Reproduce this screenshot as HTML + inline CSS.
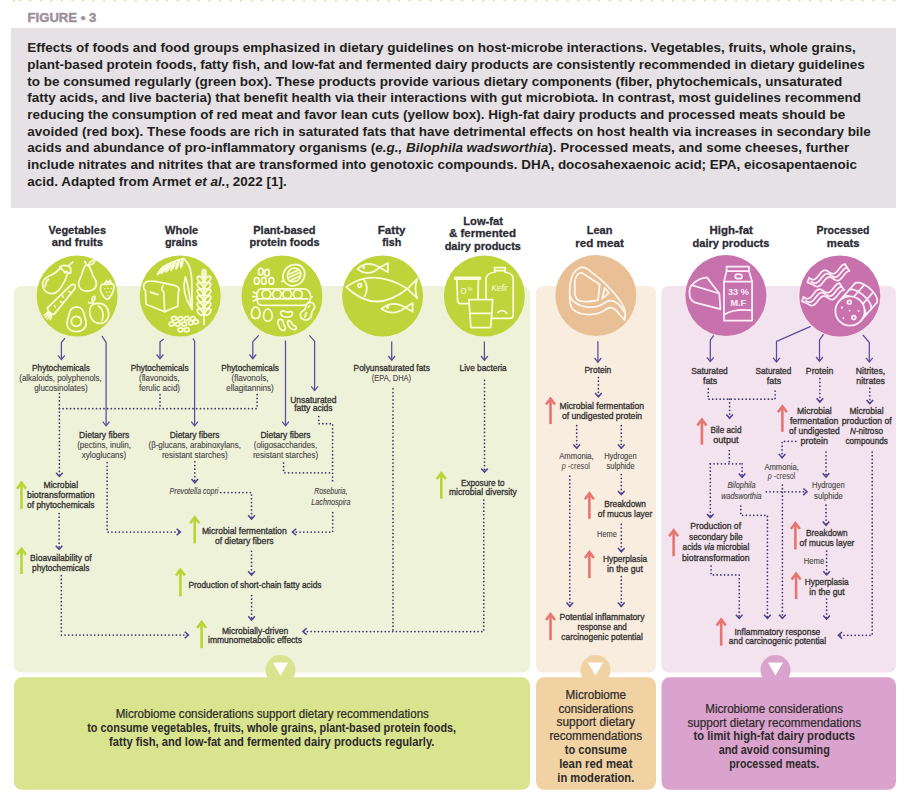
<!DOCTYPE html>
<html><head><meta charset="utf-8">
<style>
html,body{margin:0;padding:0;background:#fff;}
#page{position:relative;width:912px;height:808px;overflow:hidden;background:#fff;font-family:"Liberation Sans",sans-serif;}
#fig{position:absolute;left:27.6px;top:9.4px;font-size:13.4px;font-weight:700;color:#9e8e9a;letter-spacing:0.1px;}
#cap{position:absolute;left:11px;top:28px;width:885px;height:180px;background:#e5e1e5;}
.cl{position:absolute;left:27.3px;white-space:nowrap;font-size:13.47px;font-weight:700;color:#231f20;line-height:15px;}
svg{position:absolute;left:0;top:0;}
svg text{font-family:"Liberation Sans",sans-serif;}
.sa{fill:none;stroke:#5b4b9d;stroke-width:1.25;stroke-linejoin:miter;}
.da{fill:none;stroke:#41376f;stroke-width:1.75;stroke-dasharray:0.01 3.7;stroke-linecap:round;}
.dh{fill:none;stroke:#4d3f92;stroke-width:1.5;}
</style></head><body><div id="page">
<svg width="912" height="4" style="fill:#d9e396"><circle cx="14.0" cy="0.5" r="1.05"/><circle cx="19.8" cy="0.5" r="1.05"/><circle cx="30.3" cy="0.5" r="1.05"/><circle cx="40.8" cy="0.5" r="1.05"/><circle cx="51.4" cy="0.5" r="1.05"/><circle cx="61.9" cy="0.5" r="1.05"/><circle cx="72.4" cy="0.5" r="1.05"/><circle cx="83.0" cy="0.5" r="1.05"/><circle cx="93.5" cy="0.5" r="1.05"/><circle cx="104.1" cy="0.5" r="1.05"/><circle cx="114.6" cy="0.5" r="1.05"/><circle cx="125.1" cy="0.5" r="1.05"/><circle cx="135.7" cy="0.5" r="1.05"/><circle cx="146.2" cy="0.5" r="1.05"/><circle cx="156.7" cy="0.5" r="1.05"/><circle cx="167.3" cy="0.5" r="1.05"/><circle cx="177.8" cy="0.5" r="1.05"/><circle cx="188.4" cy="0.5" r="1.05"/><circle cx="198.9" cy="0.5" r="1.05"/><circle cx="209.4" cy="0.5" r="1.05"/><circle cx="220.0" cy="0.5" r="1.05"/><circle cx="230.5" cy="0.5" r="1.05"/><circle cx="241.0" cy="0.5" r="1.05"/><circle cx="251.6" cy="0.5" r="1.05"/><circle cx="262.1" cy="0.5" r="1.05"/><circle cx="272.6" cy="0.5" r="1.05"/><circle cx="283.2" cy="0.5" r="1.05"/><circle cx="293.7" cy="0.5" r="1.05"/><circle cx="304.3" cy="0.5" r="1.05"/><circle cx="314.8" cy="0.5" r="1.05"/><circle cx="325.3" cy="0.5" r="1.05"/><circle cx="335.9" cy="0.5" r="1.05"/><circle cx="346.4" cy="0.5" r="1.05"/><circle cx="356.9" cy="0.5" r="1.05"/><circle cx="367.5" cy="0.5" r="1.05"/><circle cx="378.0" cy="0.5" r="1.05"/><circle cx="388.6" cy="0.5" r="1.05"/><circle cx="399.1" cy="0.5" r="1.05"/><circle cx="409.6" cy="0.5" r="1.05"/><circle cx="420.2" cy="0.5" r="1.05"/><circle cx="430.7" cy="0.5" r="1.05"/><circle cx="441.2" cy="0.5" r="1.05"/><circle cx="451.8" cy="0.5" r="1.05"/><circle cx="462.3" cy="0.5" r="1.05"/><circle cx="472.9" cy="0.5" r="1.05"/><circle cx="483.4" cy="0.5" r="1.05"/><circle cx="493.9" cy="0.5" r="1.05"/><circle cx="504.5" cy="0.5" r="1.05"/><circle cx="515.0" cy="0.5" r="1.05"/><circle cx="525.5" cy="0.5" r="1.05"/><circle cx="536.1" cy="0.5" r="1.05"/><circle cx="546.6" cy="0.5" r="1.05"/><circle cx="557.1" cy="0.5" r="1.05"/><circle cx="567.7" cy="0.5" r="1.05"/><circle cx="578.2" cy="0.5" r="1.05"/><circle cx="588.8" cy="0.5" r="1.05"/><circle cx="599.3" cy="0.5" r="1.05"/><circle cx="609.8" cy="0.5" r="1.05"/><circle cx="620.4" cy="0.5" r="1.05"/><circle cx="630.9" cy="0.5" r="1.05"/><circle cx="641.4" cy="0.5" r="1.05"/><circle cx="652.0" cy="0.5" r="1.05"/><circle cx="662.5" cy="0.5" r="1.05"/><circle cx="673.1" cy="0.5" r="1.05"/><circle cx="683.6" cy="0.5" r="1.05"/><circle cx="694.1" cy="0.5" r="1.05"/><circle cx="704.7" cy="0.5" r="1.05"/><circle cx="715.2" cy="0.5" r="1.05"/><circle cx="725.7" cy="0.5" r="1.05"/><circle cx="736.3" cy="0.5" r="1.05"/><circle cx="746.8" cy="0.5" r="1.05"/><circle cx="757.4" cy="0.5" r="1.05"/><circle cx="767.9" cy="0.5" r="1.05"/><circle cx="778.4" cy="0.5" r="1.05"/><circle cx="789.0" cy="0.5" r="1.05"/><circle cx="799.5" cy="0.5" r="1.05"/><circle cx="810.0" cy="0.5" r="1.05"/><circle cx="820.6" cy="0.5" r="1.05"/><circle cx="831.1" cy="0.5" r="1.05"/><circle cx="841.6" cy="0.5" r="1.05"/><circle cx="852.2" cy="0.5" r="1.05"/><circle cx="862.7" cy="0.5" r="1.05"/><circle cx="873.3" cy="0.5" r="1.05"/><circle cx="883.8" cy="0.5" r="1.05"/><circle cx="894.3" cy="0.5" r="1.05"/></svg>
<svg width="120" height="30" style="left:0;top:0"><text x="27.6" y="21.9" textLength="68.6" lengthAdjust="spacingAndGlyphs" style="font-size:13.6px;font-weight:700;fill:#9e8e9a;stroke:#9e8e9a;stroke-width:0.45">FIGURE &#8226; 3</text></svg>
<div id="cap"></div>
<div class="cl" style="top:40.20px">Effects of foods and food groups emphasized in dietary guidelines on host-microbe interactions. Vegetables, fruits, whole grains,</div>
<div class="cl" style="top:56.87px">plant-based protein foods, fatty fish, and low-fat and fermented dairy products are consistently recommended in dietary guidelines</div>
<div class="cl" style="top:73.54px">to be consumed regularly (green box). These products provide various dietary components (fiber, phytochemicals, unsaturated</div>
<div class="cl" style="top:90.21px">fatty acids, and live bacteria) that benefit health via their interactions with gut microbiota. In contrast, most guidelines recommend</div>
<div class="cl" style="top:106.88px">reducing the consumption of red meat and favor lean cuts (yellow box). High-fat dairy products and processed meats should be</div>
<div class="cl" style="top:123.55px">avoided (red box). These foods are rich in saturated fats that have detrimental effects on host health via increases in secondary bile</div>
<div class="cl" style="top:140.22px">acids and abundance of pro-inflammatory organisms (<i>e.g., Bilophila wadsworthia</i>). Processed meats, and some cheeses, further</div>
<div class="cl" style="top:156.89px">include nitrates and nitrites that are transformed into genotoxic compounds. DHA, docosahexaenoic acid; EPA, eicosapentaenoic</div>
<div class="cl" style="top:173.56px">acid. Adapted from Armet <i>et al.</i>, 2022 [1].</div>
<svg width="912" height="808" viewBox="0 0 912 808">
<rect x="14" y="286" width="516" height="386.5" rx="7" fill="#eef2d9"/>
<rect x="536" y="286" width="120" height="386.5" rx="7" fill="#f8eddf"/>
<rect x="661.5" y="286" width="234.5" height="386.5" rx="7" fill="#f3e3ee"/>
<rect x="14" y="677.3" width="516" height="112.5" rx="8" fill="#d8e48e"/>
<rect x="536" y="677.3" width="120" height="112.5" rx="8" fill="#f1d2a3"/>
<rect x="661.5" y="677.3" width="234.5" height="112.5" rx="8" fill="#daa3cd"/>
<circle cx="280.5" cy="670" r="15" fill="#d8e48e"/>
<path d="M272.9,662.6 L288.1,662.6 L280.5,675.5 Z" fill="#fff"/>
<circle cx="595.5" cy="670" r="15" fill="#f1d2a3"/>
<path d="M587.9,662.6 L603.1,662.6 L595.5,675.5 Z" fill="#fff"/>
<circle cx="775.5" cy="670" r="15" fill="#daa3cd"/>
<path d="M767.9,662.6 L783.1,662.6 L775.5,675.5 Z" fill="#fff"/>
<circle cx="77.1" cy="296.1" r="40.5" fill="#bdd53a"/>
<circle cx="180.2" cy="296.0" r="40.5" fill="#bdd53a"/>
<circle cx="282" cy="296" r="40.5" fill="#bdd53a"/>
<circle cx="382.6" cy="296" r="40.5" fill="#bdd53a"/>
<circle cx="484.4" cy="296" r="40.5" fill="#bdd53a"/>
<circle cx="595.8" cy="295.6" r="40.5" fill="#e9bf96"/>
<circle cx="725.9" cy="295.6" r="40.5" fill="#c872ad"/>
<circle cx="839.8" cy="296" r="40.5" fill="#c872ad"/>
<g transform="translate(36,254)" fill="none" stroke="#f9fbd9" stroke-width="1.75" stroke-linejoin="round" stroke-linecap="round">
<path d="M24.8,13.6 C21.5,17.5 18,20 12.9,22.3 C9,24 6.5,27 6.7,30.5 C6.9,35 9.5,38.7 14.5,39.6 C19,40.3 22.5,37 25,33.5 C28,29 30.5,24 31.7,18.9"/>
<path d="M23.8,12.9 L27.7,11.4 L32.2,11.9 L34.7,14.4 L34.7,18.9 L32.7,19.3 L30.7,17.4 L28.7,18.9 L27.7,16.4 L25.3,14.9 Z"/>
<path d="M32.2,11.9 L36.7,8.2"/>
<path d="M9.4,32.7 C9.5,29 10.5,26.8 12.4,25.3"/>
<path d="M50.6,10.6 C47.6,12.5 46.6,17.5 45.4,21.5 C44.3,24.5 42.4,26.5 42.6,30 C42.8,34.5 46.5,37.2 51.3,37.2 C56.3,37.2 60.4,34.4 60.4,29.4 C60.4,25.8 57.6,23.5 56.5,20.5 C55.3,16.5 54.2,11.8 50.6,10.6 Z"/>
<path d="M50.4,10.4 L48.6,7.2"/>
<path d="M52.6,11.2 C53.2,8.2 55.6,6.2 59,5.8 C58.4,9 56,10.8 52.6,11.2 Z"/>
<path d="M66.2,30.2 C63.4,32.6 64,37.6 66.8,41.6 C68.6,44.2 70.4,45.6 71.8,45.2 C73.6,44.4 77.6,38.6 78,33.4 C78.2,30.6 76.6,29.2 74.6,29.6 C71.8,30.4 69,30.8 66.2,30.2 Z"/>
<path d="M68.4,30.4 L70.6,26.6 L72.2,29.2 L74.2,26.2 L75.2,29.8"/>
<g stroke-width="1.1"><path d="M68.6,34.6 l0.3,0.3 M72,34.2 l0.3,0.3 M75,34.4 l0.3,0.3 M70.2,38 l0.3,0.3 M73.6,38 l0.3,0.3 M71.8,41.4 l0.3,0.3"/></g>
<path d="M18.4,59.9 L38.9,34.6 Q39.8,31.5 38.9,30.7 Q38.0,29.9 35.1,31.0 L11.6,53.7 Q10.7,55.6 13.6,58.3 Q16.6,61.0 18.4,59.9 Z"/>
<path d="M13.4,59.2 L9.4,63.4 M14.6,60.2 L11.4,65 M16,60.6 L14.2,65.6 M12.2,58 L8.4,61.2"/>
<path d="M33,37.6 l1.4,0.6 M26.6,41.8 l0.5,1.4 M24.6,47.6 l1.4,0.6 M18.6,51.6 l0.5,1.3"/>
<path d="M40.6,52.8 C36.2,53 33.6,56.8 32.9,60.8 C32.2,64.4 30.6,67.4 31,70.6 C31.6,75 35.6,77.6 40.6,77.6 C45.6,77.6 50,74.6 50.2,69.6 C50.3,66 48.8,63.6 48.2,60.6 C47.6,56.6 45,52.8 40.6,52.8 Z"/>
<circle cx="40.3" cy="67.4" r="5"/>
<path d="M57.2,50.2 C53.6,52.2 53.2,57.6 54.2,61.6 C55.6,66.6 59.6,69.6 64.2,69.4 C69.6,69.2 73.2,64.8 72.6,58.8 C72,53.4 68.4,49.6 63.6,49.4 C61.2,49.3 59,49.4 57.2,50.2 Z"/>
<path d="M62.4,52 C66.8,54.6 68.2,60.4 66.2,66.2"/>
<path d="M57.4,50.4 L56.6,46.2 M56.8,47.4 C55.4,45.6 55.8,43.2 58.8,42.4 C59.4,45 58.8,46.6 56.8,47.4 Z M56.2,49 L52.6,48.6"/>
</g>
<g transform="translate(139,254)" fill="none" stroke="#f9fbd9" stroke-width="1.75" stroke-linejoin="round" stroke-linecap="round">
<path d="M6.4,36.2 C4,35.2 3.6,30.4 6.8,28.2 C9.6,26.4 13.4,26.8 17.6,27.6 L35.6,31.4 C39.6,32.4 41.2,35.6 39.4,37.6 L38.8,52.2 L25.6,57.8 L7,50.2 Z"/>
<path d="M25.6,57.8 L24.8,38 C22.6,37 22,33.6 24.4,31.4"/>
<path d="M11.2,38.2 L19,40.6"/>
<path d="M44.2,4.4 C49.6,8 52.6,16 52.8,28 L53.2,55.6"/>
<path d="M43.5,5 Q41.08,8.95 42,13.5 Q44.42,9.55 43.5,5 Z"/>
<path d="M40,6 Q36.89,9.96 37,15 Q40.11,11.04 40,6 Z"/>
<path d="M36.2,7.4 Q32.56,11.18 32,16.4 Q35.64,12.62 36.2,7.4 Z"/>
<path d="M32.4,9 Q28.25,12.51 27,17.8 Q31.15,14.29 32.4,9 Z"/>
<path d="M28.6,10.8 Q24.13,13.99 22.4,19.2 Q26.87,16.01 28.6,10.8 Z"/>
<path d="M25,12.8 Q20.40,15.60 18.4,20.6 Q23.00,17.80 25,12.8 Z"/>
<path d="M44.5,4.5 C37,6.5 30,9 24,12.8"/>
<path d="M46.4,22.8 C43.8,32 45,43.4 52.6,54.6 C50.6,44 49.6,31.6 46.4,22.8 Z"/>
<path d="M65,16 L65,70.5"/>
<ellipse cx="65" cy="19.5" rx="2" ry="3.8"/>
<ellipse cx="61.2" cy="25.5" rx="2.1" ry="3.7" transform="rotate(-40 61.2 25.5)"/>
<ellipse cx="68.8" cy="25.5" rx="2.1" ry="3.7" transform="rotate(40 68.8 25.5)"/>
<ellipse cx="61.2" cy="32" rx="2.1" ry="3.7" transform="rotate(-40 61.2 32)"/>
<ellipse cx="68.8" cy="32" rx="2.1" ry="3.7" transform="rotate(40 68.8 32)"/>
<ellipse cx="61.2" cy="38.5" rx="2.1" ry="3.7" transform="rotate(-40 61.2 38.5)"/>
<ellipse cx="68.8" cy="38.5" rx="2.1" ry="3.7" transform="rotate(40 68.8 38.5)"/>
<ellipse cx="61.2" cy="45" rx="2.1" ry="3.7" transform="rotate(-40 61.2 45)"/>
<ellipse cx="68.8" cy="45" rx="2.1" ry="3.7" transform="rotate(40 68.8 45)"/>
<ellipse cx="61.2" cy="51.5" rx="2.1" ry="3.7" transform="rotate(-40 61.2 51.5)"/>
<ellipse cx="68.8" cy="51.5" rx="2.1" ry="3.7" transform="rotate(40 68.8 51.5)"/>
<ellipse cx="61.2" cy="58" rx="2.1" ry="3.7" transform="rotate(-40 61.2 58)"/>
<ellipse cx="68.8" cy="58" rx="2.1" ry="3.7" transform="rotate(40 68.8 58)"/>
<ellipse cx="35" cy="64.4" rx="2.5" ry="1.9" transform="rotate(-15 35 64.4)"/>
<ellipse cx="41.2" cy="64.6" rx="2.5" ry="1.9" transform="rotate(-15 41.2 64.6)"/>
<ellipse cx="47.6" cy="64.4" rx="2.5" ry="1.9" transform="rotate(-15 47.6 64.4)"/>
<ellipse cx="53.8" cy="64.6" rx="2.5" ry="1.9" transform="rotate(-15 53.8 64.6)"/>
<ellipse cx="32.6" cy="70" rx="2.5" ry="1.9" transform="rotate(-15 32.6 70)"/>
<ellipse cx="38.8" cy="70.2" rx="2.5" ry="1.9" transform="rotate(-15 38.8 70.2)"/>
<ellipse cx="45.2" cy="70" rx="2.5" ry="1.9" transform="rotate(-15 45.2 70)"/>
<ellipse cx="52" cy="68.8" rx="2.5" ry="1.9" transform="rotate(-15 52 68.8)"/>
<ellipse cx="57" cy="67.8" rx="2.5" ry="1.9" transform="rotate(-15 57 67.8)"/>
<ellipse cx="41.6" cy="75.8" rx="2.5" ry="1.9" transform="rotate(-15 41.6 75.8)"/>
<ellipse cx="47.8" cy="75.8" rx="2.5" ry="1.9" transform="rotate(-15 47.8 75.8)"/>
</g>
<g transform="translate(241,255)" fill="none" stroke="#f9fbd9" stroke-width="1.75" stroke-linejoin="round" stroke-linecap="round">
<ellipse cx="19.8" cy="16.8" rx="2.4" ry="3.3"/>
<ellipse cx="25.9" cy="17.8" rx="2.4" ry="3.3"/>
<ellipse cx="15.7" cy="25.9" rx="2.4" ry="3.3"/>
<ellipse cx="22.8" cy="25.9" rx="2.4" ry="3.3"/>
<ellipse cx="30.4" cy="25.9" rx="2.4" ry="3.3"/>
<path d="M42.6,25.6 C40.6,20 43.4,11 52.8,9.6 C60.4,8.6 64.4,14.6 63.6,20.4 C62.8,27 57,31 51.4,30.8 C47.6,30.6 44.6,28.8 42.6,25.6 Z"/>
<path d="M42.6,25.6 L41,26.4"/>
<path d="M46.6,22.6 C46,17 49,13.2 53.4,13 C58.4,13 60.4,17 59.6,20.8 C58.6,25.4 54.4,27 50.8,26.6 C48.6,26.4 47.2,24.8 46.6,22.6 Z"/>
<path d="M48.8,19 L56.4,15.4 M48.6,22.4 L58,17.8 M50.6,25 L58.8,21"/>
<path d="M20.6,33.8 L62.6,33.8 C67,33.8 69.2,37.6 69.8,41.6 L71.2,41.6 L69.8,42.2 C69.2,46.8 66.2,50.4 62,50.4 L21,50.4 C17,50.4 15.8,46.2 15.8,42 C15.8,37.6 17,33.8 20.6,33.8 Z"/>
<path d="M17,43.8 L66.6,43.8"/>
<circle cx="25.4" cy="39.2" r="4.4"/>
<circle cx="36" cy="39.2" r="4.4"/>
<circle cx="46.2" cy="39.2" r="4.4"/>
<circle cx="56.8" cy="39.2" r="4.4"/>
<path d="M15.8,38.4 L12.2,37.2 M15.8,41.6 L11.6,41.6 M15.8,44.4 L12.2,46"/>
<path d="M14.7,51.8 C17.4,51.8 19,56 19,58.6 C19,61.6 17.2,63.6 14.7,63.6 C12.2,63.6 10.4,61.6 10.4,58.6 C10.4,56 12,51.8 14.7,51.8 Z"/>
<path d="M26.9,53.8 C29.7,53.8 31.3,58.2 31.3,60.9 C31.3,64.1 29.4,66.2 26.9,66.2 C24.4,66.2 22.5,64.1 22.5,60.9 C22.5,58.2 24.1,53.8 26.9,53.8 Z"/>
<path d="M39.6,58.2 C39.4,55.4 42.6,55.6 44.6,56.8 C46.6,58 48.4,56.2 50,56.6 C52.6,57.4 51.6,61.6 47.8,62 C44,62.4 39.8,61.6 39.6,58.2 Z"/>
<path d="M38.6,64.4 C36.4,64.6 36.6,68 37.8,71 C39,74.4 41.6,76 43.4,75.2 C45.2,74.2 44.4,72 43.2,70.2 C42,68.2 42.4,66 41.2,65 C40.6,64.6 39.6,64.3 38.6,64.4 Z"/>
<path d="M47.4,65.8 C45.8,66.6 46.4,69.6 48.6,72.2 C50.6,74.6 53.4,75.4 55,74 C56.2,72.6 54.8,71 53,70.6 C51.2,70.2 50.8,68.4 50,67 C49.4,66 48.4,65.4 47.4,65.8 Z"/>
<path d="M60.6,63.4 C58.2,60.6 59.2,56.8 62.2,55.6 C64,54.8 64.6,53.8 64.8,51.6 C65.2,48 68.6,46.4 71.4,47.8 C74.2,49.4 74.2,53 72,55 C70.8,56.2 70.6,57.4 70.6,59 C70.6,62.6 67.6,65.4 64.2,65 C62.8,64.8 61.4,64.2 60.6,63.4 Z"/>
<path d="M64.2,59.6 L65.6,57.6 M67.2,52.6 L68.4,50.6 M63.6,62.2 L64.6,60.8"/>
</g>
<g transform="translate(335,250)" fill="none" stroke="#f9fbd9" stroke-width="1.75" stroke-linejoin="round" stroke-linecap="round">
<path d="M11.2,37 Q38,17.6 72.3,38.8 Q40,65 11.2,37 Z"/>
<path d="M72.3,38.8 L82.3,28.8 Q78.6,38.6 82.3,48.4 Z"/>
<circle cx="24.7" cy="35.3" r="1.8"/>
<path d="M29.2,30 Q34.4,38.2 29.6,46.4"/>
<path d="M22.3,18.8 Q33,9.4 44.7,17.6 Q33,27.6 22.3,18.8 Z"/>
<path d="M44.7,17.6 L52.9,12.9 L52.9,22.3 Z"/>
<path d="M46.4,58.8 Q58,49.4 70.5,57.6 Q58,67 46.4,58.8 Z"/>
<path d="M70.5,57.6 L77.6,52.9 L77.6,61.7 Z"/>
<circle cx="28.6" cy="17.4" r="0.6"/><circle cx="52.6" cy="57.4" r="0.6"/>
</g>
<g transform="translate(443,255)" fill="none" stroke="#f9fbd9" stroke-width="1.75" stroke-linejoin="round" stroke-linecap="round">
<path d="M51.6,12.6 L62.2,12.6 L62.2,15.6 L51.6,15.6 Z"/>
<path d="M52.2,15.6 L52.2,17 C46,18 43.2,19.6 43,23.6 L43,46"/>
<path d="M61.6,15.6 L61.6,17 C67.8,18 70,19.6 70.2,23.6 L70.2,60.6 C70.2,62.6 69,63.4 67,63.4 L49,63.4"/>
<path d="M55,57.4 C58,55 61.4,55.4 64,58.4"/>
<path d="M11.8,22.4 L37.2,22.4 L37.2,24.2 L11.8,24.2 Z"/>
<path d="M13.8,24.2 L14.6,46 C14.8,47.8 15.8,48.6 17.6,48.6 L26.4,48.6"/>
<path d="M35.4,24.2 L35,44.6"/>
<path d="M25.9,44.7 L49.7,44.7 L47.7,72.6 L27.9,72.6 Z" fill="#bdd53a"/>
<path d="M27,58.4 L48.6,58.4"/>
</g>
<text x="460.6" y="294.2" style="font-size:8.6px;font-weight:400;fill:#f9fbd9" textLength="6.2" lengthAdjust="spacingAndGlyphs">0</text>
<text x="467.4" y="291.2" style="font-size:5.6px;font-weight:400;fill:#f9fbd9">%</text>
<text x="491.4" y="291.4" style="font-size:8.4px;font-style:italic;fill:#f9fbd9" textLength="16.4" lengthAdjust="spacingAndGlyphs">Kefir</text>
<g transform="translate(555,254)" fill="none" stroke="#fff7ee" stroke-width="1.75" stroke-linejoin="round" stroke-linecap="round">
<path d="M27.9,13.2 C31,13.6 33,15.4 35.5,17.3 C39,20.4 42.4,22.6 45.7,25.4 C49,28.4 52.4,31.8 55.8,35.5 C59,39 62.4,42.6 65,46.7 C67.6,50.6 69.4,53.4 70,56.8 C70.6,60 70.2,63 69.5,66 C68,64.2 66.6,62.4 65,60.9 C63,58.6 61,56.2 58.9,54.8 C57,53.6 55.4,53.4 53.8,53.8 C52,54.4 50.4,55.8 48.7,56.8 C46,58.4 43.4,59.4 40.6,59.9 C37,60.6 33.6,60.6 30.4,60.4 C26.8,60.2 23.8,59.2 21.3,57.8 C18.8,56.2 17,54.6 16.2,52.8 C15,50 14.7,47.4 14.7,44.7 L14.7,34.5 C14.9,30.6 15.6,26.8 16.7,23.3 C17.8,20 19.4,17.8 21.3,16.2 C23.4,14.4 25.6,13.2 27.9,13.2 Z"/>
<path d="M26.9,18.8 L44.7,30.4 L43.1,46.2 C39,47.2 34.6,47.8 30.4,47.7 C26.6,47.6 24,46.8 22.3,45.7 C20.4,43.4 19.8,41 19.8,38.6 L19.8,27.4 C20.2,24.6 21.2,22.2 22.8,20.3 C24,19.2 25.4,18.6 26.9,18.8 Z"/>
<path d="M49.7,34 L53.8,39.1 L47.2,44.7 Z"/>
<path d="M15.2,42.6 C16.4,45.4 18,47.4 20.3,48.7 C23.4,50.8 26.8,52.4 30.4,52.8 C34.6,53.2 38.6,53.2 42.6,52.3 C45.2,51.6 47.6,50.2 49.7,48.7 C52,47.2 54.4,46.4 56.8,46.7 C59,47 61,48.2 62.9,49.7 C65.2,52 67.2,54.6 69,57.8"/>
</g>
<g transform="translate(684,254)" fill="none" stroke="#fdeefa" stroke-width="1.75" stroke-linejoin="round" stroke-linecap="round">
<path d="M8.8,30.1 C12.4,26.4 17.2,24 22.9,23.4 L35.3,39.5 L36.4,55.1 L10.4,48.3 C7.8,46.6 6,44.4 5.7,41.6 C5.2,38.4 5.4,35.4 6.2,33.3 C6.8,32 7.6,31 8.8,30.1 Z"/>
<path d="M7.8,31.2 L35.3,39.5"/>
<path d="M42.6,12.5 L65,12.5 L65,17.2 L42.6,17.2 Z"/>
<path d="M42.6,17.2 L40,27.5 L40,66.5 L68.1,66.5 L68.1,27.5 L65,17.2"/>
<path d="M40,27.5 L68.1,27.5"/>
<ellipse cx="54.6" cy="22.4" rx="3.4" ry="2.3"/>
<path d="M40.4,60.6 C47,56.4 58,55.4 68,56.4"/>
</g>
<text x="738.4" y="295.2" text-anchor="middle" textLength="20.8" lengthAdjust="spacingAndGlyphs" style="font-size:9.4px;font-weight:700;fill:#fdeefa">33 %</text>
<text x="738.2" y="305.6" text-anchor="middle" textLength="15.6" lengthAdjust="spacingAndGlyphs" style="font-size:9.4px;font-weight:700;fill:#fdeefa">M.F</text>
<g fill="none" stroke="#fdeefa" stroke-width="1.75" stroke-linejoin="round" stroke-linecap="round">
<path d="M809.00,278.00 L809.90,278.59 L810.80,279.12 L811.70,279.52 L812.60,279.72 L813.50,279.71 L814.40,279.46 L815.30,278.96 L816.20,278.23 L817.10,277.31 L818.00,276.26 L818.90,275.13 L819.80,273.99 L820.70,272.91 L821.60,271.96 L822.50,271.19 L823.40,270.63 L824.30,270.32 L825.20,270.26 L826.10,270.42 L827.00,270.78 L827.90,271.28 L828.80,271.87 L829.70,272.47 L830.60,273.01 L831.50,273.44 L832.40,273.70 L833.30,273.74 L834.20,273.53 L835.10,273.09 L836.00,272.41 L836.90,271.53 L837.80,270.50 L838.70,269.38 L839.60,268.24 L840.50,267.14 L841.40,266.16 L842.30,265.34 L843.20,264.74 L844.10,264.37 L845.00,264.25"/>
<path d="M811.20,281.40 L812.10,281.99 L813.00,282.52 L813.90,282.92 L814.80,283.12 L815.70,283.11 L816.60,282.86 L817.50,282.36 L818.40,281.63 L819.30,280.71 L820.20,279.66 L821.10,278.53 L822.00,277.39 L822.90,276.31 L823.80,275.36 L824.70,274.59 L825.60,274.03 L826.50,273.72 L827.40,273.66 L828.30,273.82 L829.20,274.18 L830.10,274.68 L831.00,275.27 L831.90,275.87 L832.80,276.41 L833.70,276.84 L834.60,277.10 L835.50,277.14 L836.40,276.93 L837.30,276.49 L838.20,275.81 L839.10,274.93 L840.00,273.90 L840.90,272.78 L841.80,271.64 L842.70,270.54 L843.60,269.56 L844.50,268.74 L845.40,268.14 L846.30,267.77 L847.20,267.65"/>
<path d="M813.40,284.80 L814.30,285.39 L815.20,285.92 L816.10,286.32 L817.00,286.52 L817.90,286.51 L818.80,286.26 L819.70,285.76 L820.60,285.03 L821.50,284.11 L822.40,283.06 L823.30,281.93 L824.20,280.79 L825.10,279.71 L826.00,278.76 L826.90,277.99 L827.80,277.43 L828.70,277.12 L829.60,277.06 L830.50,277.22 L831.40,277.58 L832.30,278.08 L833.20,278.67 L834.10,279.27 L835.00,279.81 L835.90,280.24 L836.80,280.50 L837.70,280.54 L838.60,280.33 L839.50,279.89 L840.40,279.21 L841.30,278.33 L842.20,277.30 L843.10,276.18 L844.00,275.04 L844.90,273.94 L845.80,272.96 L846.70,272.14 L847.60,271.54 L848.50,271.17 L849.40,271.05"/>
<path d="M809.00,278.00 L807.50,282.40 L813.40,284.80"/>
<path d="M845.00,264.25 L849.40,271.05"/>
<path d="M803.50,297.00 L804.40,297.59 L805.30,298.12 L806.20,298.52 L807.10,298.72 L808.00,298.71 L808.90,298.46 L809.80,297.96 L810.70,297.23 L811.60,296.31 L812.50,295.26 L813.40,294.13 L814.30,292.99 L815.20,291.91 L816.10,290.96 L817.00,290.19 L817.90,289.63 L818.80,289.32 L819.70,289.26 L820.60,289.42 L821.50,289.78 L822.40,290.28 L823.30,290.87 L824.20,291.47 L825.10,292.01 L826.00,292.44 L826.90,292.70 L827.80,292.74 L828.70,292.53 L829.60,292.09 L830.50,291.41 L831.40,290.53 L832.30,289.50 L833.20,288.38 L834.10,287.24 L835.00,286.14 L835.90,285.16 L836.80,284.34 L837.70,283.74 L838.60,283.37 L839.50,283.25"/>
<path d="M805.70,300.40 L806.60,300.99 L807.50,301.52 L808.40,301.92 L809.30,302.12 L810.20,302.11 L811.10,301.86 L812.00,301.36 L812.90,300.63 L813.80,299.71 L814.70,298.66 L815.60,297.53 L816.50,296.39 L817.40,295.31 L818.30,294.36 L819.20,293.59 L820.10,293.03 L821.00,292.72 L821.90,292.66 L822.80,292.82 L823.70,293.18 L824.60,293.68 L825.50,294.27 L826.40,294.87 L827.30,295.41 L828.20,295.84 L829.10,296.10 L830.00,296.14 L830.90,295.93 L831.80,295.49 L832.70,294.81 L833.60,293.93 L834.50,292.90 L835.40,291.78 L836.30,290.64 L837.20,289.54 L838.10,288.56 L839.00,287.74 L839.90,287.14 L840.80,286.77 L841.70,286.65"/>
<path d="M807.90,303.80 L808.80,304.39 L809.70,304.92 L810.60,305.32 L811.50,305.52 L812.40,305.51 L813.30,305.26 L814.20,304.76 L815.10,304.03 L816.00,303.11 L816.90,302.06 L817.80,300.93 L818.70,299.79 L819.60,298.71 L820.50,297.76 L821.40,296.99 L822.30,296.43 L823.20,296.12 L824.10,296.06 L825.00,296.22 L825.90,296.58 L826.80,297.08 L827.70,297.67 L828.60,298.27 L829.50,298.81 L830.40,299.24 L831.30,299.50 L832.20,299.54 L833.10,299.33 L834.00,298.89 L834.90,298.21 L835.80,297.33 L836.70,296.30 L837.60,295.18 L838.50,294.04 L839.40,292.94 L840.30,291.96 L841.20,291.14 L842.10,290.54 L843.00,290.17 L843.90,290.05"/>
<path d="M803.50,297.00 L802.00,301.40 L807.90,303.80"/>
<path d="M839.50,283.25 L843.90,290.05"/>
<path d="M839.04,301.35 L854.56,283.71"/>
<path d="M860.96,320.65 L876.49,303.00"/>
<path d="M854.56,283.71 L855.22,283.16 L856.05,282.78 L857.04,282.58 L858.18,282.57 L859.44,282.74 L860.81,283.09 L862.26,283.62 L863.76,284.31 L865.30,285.16 L866.84,286.15 L868.35,287.26 L869.82,288.48 L871.21,289.78 L872.51,291.14 L873.69,292.54 L874.72,293.95 L875.60,295.36 L876.31,296.73 L876.83,298.04 L877.16,299.27 L877.29,300.40 L877.22,301.41 L876.95,302.28 L876.49,303.00"/>
<path d="M848.66,290.42 L849.28,289.91 L850.06,289.58 L851.02,289.43 L852.12,289.46 L853.34,289.67 L854.68,290.06 L856.10,290.62 L857.58,291.34 L859.09,292.21 L860.62,293.21 L862.12,294.34 L863.59,295.56 L864.99,296.86 L866.29,298.21 L867.48,299.59 L868.54,300.98 L869.44,302.36 L870.18,303.70 L870.73,304.97 L871.10,306.16 L871.27,307.25 L871.24,308.21 L871.01,309.04 L870.59,309.71"/>
<path d="M843.39,296.42 L843.95,295.96 L844.70,295.68 L845.61,295.57 L846.67,295.64 L847.86,295.89 L849.17,296.32 L850.56,296.91 L852.01,297.66 L853.51,298.55 L855.02,299.58 L856.52,300.71 L857.98,301.93 L859.38,303.23 L860.69,304.57 L861.90,305.94 L862.97,307.31 L863.90,308.66 L864.67,309.96 L865.25,311.20 L865.66,312.35 L865.86,313.39 L865.87,314.31 L865.69,315.08 L865.31,315.71"/>
<path d="M846.44,305.20 L864.19,285.03"/>
<path d="M855.07,312.80 L873.00,292.43"/>
<circle cx="850.0" cy="311.0" r="14.6" fill="#c872ad"/>
<circle cx="849.3" cy="302.2" r="1.9"/><circle cx="853.8" cy="317.6" r="1.9"/>
</g>
<g fill="#fdeefa"><circle cx="841.9" cy="307.6" r="1.15"/><circle cx="849.6" cy="310.6" r="0.95"/><circle cx="858.6" cy="310.9" r="0.95"/><circle cx="843.5" cy="318.3" r="0.95"/></g>
<text x="77.3" y="233.8" text-anchor="middle" textLength="57.5" lengthAdjust="spacingAndGlyphs" style="font-size:11.6px;font-weight:700;fill:#2b2a33;stroke:#2b2a33;stroke-width:0.28">Vegetables</text>
<text x="77.4" y="246.2" text-anchor="middle" textLength="51.5" lengthAdjust="spacingAndGlyphs" style="font-size:11.6px;font-weight:700;fill:#2b2a33;stroke:#2b2a33;stroke-width:0.28">and fruits</text>
<text x="181.6" y="233.8" text-anchor="middle" textLength="33.0" lengthAdjust="spacingAndGlyphs" style="font-size:11.6px;font-weight:700;fill:#2b2a33;stroke:#2b2a33;stroke-width:0.28">Whole</text>
<text x="181.2" y="246.0" text-anchor="middle" textLength="32.6" lengthAdjust="spacingAndGlyphs" style="font-size:11.6px;font-weight:700;fill:#2b2a33;stroke:#2b2a33;stroke-width:0.28">grains</text>
<text x="284.4" y="233.8" text-anchor="middle" textLength="62.3" lengthAdjust="spacingAndGlyphs" style="font-size:11.6px;font-weight:700;fill:#2b2a33;stroke:#2b2a33;stroke-width:0.28">Plant-based</text>
<text x="284.6" y="246.2" text-anchor="middle" textLength="70.1" lengthAdjust="spacingAndGlyphs" style="font-size:11.6px;font-weight:700;fill:#2b2a33;stroke:#2b2a33;stroke-width:0.28">protein foods</text>
<text x="391.6" y="233.7" text-anchor="middle" textLength="27.7" lengthAdjust="spacingAndGlyphs" style="font-size:11.6px;font-weight:700;fill:#2b2a33;stroke:#2b2a33;stroke-width:0.28">Fatty</text>
<text x="391.8" y="246.2" text-anchor="middle" textLength="19.1" lengthAdjust="spacingAndGlyphs" style="font-size:11.6px;font-weight:700;fill:#2b2a33;stroke:#2b2a33;stroke-width:0.28">fish</text>
<text x="483.1" y="224.5" text-anchor="middle" textLength="39.6" lengthAdjust="spacingAndGlyphs" style="font-size:11.6px;font-weight:700;fill:#2b2a33;stroke:#2b2a33;stroke-width:0.28">Low-fat</text>
<text x="482.5" y="237.4" text-anchor="middle" textLength="67.1" lengthAdjust="spacingAndGlyphs" style="font-size:11.6px;font-weight:700;fill:#2b2a33;stroke:#2b2a33;stroke-width:0.28">&amp; fermented</text>
<text x="482.8" y="250.2" text-anchor="middle" textLength="76.3" lengthAdjust="spacingAndGlyphs" style="font-size:11.6px;font-weight:700;fill:#2b2a33;stroke:#2b2a33;stroke-width:0.28">dairy products</text>
<text x="599.6" y="234.3" text-anchor="middle" textLength="25.7" lengthAdjust="spacingAndGlyphs" style="font-size:11.6px;font-weight:700;fill:#2b2a33;stroke:#2b2a33;stroke-width:0.28">Lean</text>
<text x="599.5" y="246.8" text-anchor="middle" textLength="48.6" lengthAdjust="spacingAndGlyphs" style="font-size:11.6px;font-weight:700;fill:#2b2a33;stroke:#2b2a33;stroke-width:0.28">red meat</text>
<text x="731.2" y="234.3" text-anchor="middle" textLength="43.3" lengthAdjust="spacingAndGlyphs" style="font-size:11.6px;font-weight:700;fill:#2b2a33;stroke:#2b2a33;stroke-width:0.28">High-fat</text>
<text x="731.0" y="246.8" text-anchor="middle" textLength="76.8" lengthAdjust="spacingAndGlyphs" style="font-size:11.6px;font-weight:700;fill:#2b2a33;stroke:#2b2a33;stroke-width:0.28">dairy products</text>
<text x="843.0" y="234.3" text-anchor="middle" textLength="52.9" lengthAdjust="spacingAndGlyphs" style="font-size:11.6px;font-weight:700;fill:#2b2a33;stroke:#2b2a33;stroke-width:0.28">Processed</text>
<text x="843.2" y="246.8" text-anchor="middle" textLength="32.8" lengthAdjust="spacingAndGlyphs" style="font-size:11.6px;font-weight:700;fill:#2b2a33;stroke:#2b2a33;stroke-width:0.28">meats</text>
<!--FLOW-->
<text x="61.0" text-anchor="middle" y="370.5" textLength="57.9" lengthAdjust="spacingAndGlyphs" style="font-size:9.1px;font-weight:400;fill:#353232;stroke:#353232;stroke-width:0.32">Phytochemicals</text>
<text x="60.5" text-anchor="middle" y="381.2" textLength="82.5" lengthAdjust="spacingAndGlyphs" style="font-size:8.6px;font-weight:400;fill:#474444;stroke:#474444;stroke-width:0.12">(alkaloids, polyphenols,</text>
<text x="60.9" text-anchor="middle" y="391.2" textLength="53.5" lengthAdjust="spacingAndGlyphs" style="font-size:8.6px;font-weight:400;fill:#474444;stroke:#474444;stroke-width:0.12">glucosinolates)</text>
<text x="159.6" text-anchor="middle" y="370.5" textLength="57.9" lengthAdjust="spacingAndGlyphs" style="font-size:9.1px;font-weight:400;fill:#353232;stroke:#353232;stroke-width:0.32">Phytochemicals</text>
<text x="159.3" text-anchor="middle" y="380.9" textLength="40.6" lengthAdjust="spacingAndGlyphs" style="font-size:8.6px;font-weight:400;fill:#474444;stroke:#474444;stroke-width:0.12">(flavonoids,</text>
<text x="159.5" text-anchor="middle" y="391.2" textLength="41.1" lengthAdjust="spacingAndGlyphs" style="font-size:8.6px;font-weight:400;fill:#474444;stroke:#474444;stroke-width:0.12">ferulic acid)</text>
<text x="250.0" text-anchor="middle" y="370.5" textLength="57.7" lengthAdjust="spacingAndGlyphs" style="font-size:9.1px;font-weight:400;fill:#353232;stroke:#353232;stroke-width:0.32">Phytochemicals</text>
<text x="250.0" text-anchor="middle" y="380.9" textLength="37.0" lengthAdjust="spacingAndGlyphs" style="font-size:8.6px;font-weight:400;fill:#474444;stroke:#474444;stroke-width:0.12">(flavonols,</text>
<text x="250.0" text-anchor="middle" y="391.2" textLength="47.6" lengthAdjust="spacingAndGlyphs" style="font-size:8.6px;font-weight:400;fill:#474444;stroke:#474444;stroke-width:0.12">ellagitannins)</text>
<text x="313.3" text-anchor="middle" y="402.6" textLength="46.3" lengthAdjust="spacingAndGlyphs" style="font-size:9.1px;font-weight:400;fill:#353232;stroke:#353232;stroke-width:0.32">Unsaturated</text>
<text x="313.4" text-anchor="middle" y="411.3" textLength="38.5" lengthAdjust="spacingAndGlyphs" style="font-size:9.1px;font-weight:400;fill:#353232;stroke:#353232;stroke-width:0.32">fatty acids</text>
<text x="104.2" text-anchor="middle" y="437.7" textLength="50.2" lengthAdjust="spacingAndGlyphs" style="font-size:9.1px;font-weight:400;fill:#353232;stroke:#353232;stroke-width:0.32">Dietary fibers</text>
<text x="104.1" text-anchor="middle" y="448.3" textLength="53.9" lengthAdjust="spacingAndGlyphs" style="font-size:8.6px;font-weight:400;fill:#474444;stroke:#474444;stroke-width:0.12">(pectins, inulin,</text>
<text x="104.0" text-anchor="middle" y="458.3" textLength="44.3" lengthAdjust="spacingAndGlyphs" style="font-size:8.6px;font-weight:400;fill:#474444;stroke:#474444;stroke-width:0.12">xyloglucans)</text>
<text x="194.6" text-anchor="middle" y="437.7" textLength="49.8" lengthAdjust="spacingAndGlyphs" style="font-size:9.1px;font-weight:400;fill:#353232;stroke:#353232;stroke-width:0.32">Dietary fibers</text>
<text x="194.7" text-anchor="middle" y="448.3" textLength="92.4" lengthAdjust="spacingAndGlyphs" style="font-size:8.6px;font-weight:400;fill:#474444;stroke:#474444;stroke-width:0.12">(&#946;-glucans, arabinoxylans,</text>
<text x="194.8" text-anchor="middle" y="458.3" textLength="65.7" lengthAdjust="spacingAndGlyphs" style="font-size:8.6px;font-weight:400;fill:#474444;stroke:#474444;stroke-width:0.12">resistant starches)</text>
<text x="285.5" text-anchor="middle" y="437.7" textLength="50.2" lengthAdjust="spacingAndGlyphs" style="font-size:9.1px;font-weight:400;fill:#353232;stroke:#353232;stroke-width:0.32">Dietary fibers</text>
<text x="285.5" text-anchor="middle" y="448.3" textLength="63.3" lengthAdjust="spacingAndGlyphs" style="font-size:8.6px;font-weight:400;fill:#474444;stroke:#474444;stroke-width:0.12">(oligosaccharides,</text>
<text x="285.6" text-anchor="middle" y="458.3" textLength="65.3" lengthAdjust="spacingAndGlyphs" style="font-size:8.6px;font-weight:400;fill:#474444;stroke:#474444;stroke-width:0.12">resistant starches)</text>
<text x="60.8" text-anchor="middle" y="487.6" textLength="34.6" lengthAdjust="spacingAndGlyphs" style="font-size:9.1px;font-weight:400;fill:#353232;stroke:#353232;stroke-width:0.32">Microbial</text>
<text x="60.8" text-anchor="middle" y="498.2" textLength="67.5" lengthAdjust="spacingAndGlyphs" style="font-size:9.1px;font-weight:400;fill:#353232;stroke:#353232;stroke-width:0.32">biotransformation</text>
<text x="60.8" text-anchor="middle" y="508.4" textLength="67.5" lengthAdjust="spacingAndGlyphs" style="font-size:9.1px;font-weight:400;fill:#353232;stroke:#353232;stroke-width:0.32">of phytochemicals</text>
<text x="60.8" text-anchor="middle" y="561.1" textLength="61.5" lengthAdjust="spacingAndGlyphs" style="font-size:9.1px;font-weight:400;fill:#353232;stroke:#353232;stroke-width:0.32">Bioavailability of</text>
<text x="60.8" text-anchor="middle" y="571.2" textLength="57.5" lengthAdjust="spacingAndGlyphs" style="font-size:9.1px;font-weight:400;fill:#353232;stroke:#353232;stroke-width:0.32">phytochemicals</text>
<text x="169.6" text-anchor="start" y="494.4" textLength="48.8" lengthAdjust="spacingAndGlyphs" style="font-size:8.6px;font-weight:400;fill:#474444;stroke:#474444;stroke-width:0.12;font-style:italic">Prevotella copri</text>
<text x="330.9" text-anchor="middle" y="494.2" textLength="33.4" lengthAdjust="spacingAndGlyphs" style="font-size:8.6px;font-weight:400;fill:#474444;stroke:#474444;stroke-width:0.12;font-style:italic">Roseburia,</text>
<text x="330.9" text-anchor="middle" y="505.4" textLength="39.1" lengthAdjust="spacingAndGlyphs" style="font-size:8.6px;font-weight:400;fill:#474444;stroke:#474444;stroke-width:0.12;font-style:italic">Lachnospira</text>
<text x="244.3" text-anchor="middle" y="534.2" textLength="84.8" lengthAdjust="spacingAndGlyphs" style="font-size:9.1px;font-weight:400;fill:#353232;stroke:#353232;stroke-width:0.32">Microbial fermentation</text>
<text x="244.3" text-anchor="middle" y="544.3" textLength="58.4" lengthAdjust="spacingAndGlyphs" style="font-size:9.1px;font-weight:400;fill:#353232;stroke:#353232;stroke-width:0.32">of dietary fibers</text>
<text x="188.4" text-anchor="start" y="587.6" textLength="133.1" lengthAdjust="spacingAndGlyphs" style="font-size:9.1px;font-weight:400;fill:#353232;stroke:#353232;stroke-width:0.32">Production of short-chain fatty acids</text>
<text x="255.1" text-anchor="middle" y="633.7" textLength="66.3" lengthAdjust="spacingAndGlyphs" style="font-size:9.1px;font-weight:400;fill:#353232;stroke:#353232;stroke-width:0.32">Microbially-driven</text>
<text x="255.0" text-anchor="middle" y="643.3" textLength="94.0" lengthAdjust="spacingAndGlyphs" style="font-size:9.1px;font-weight:400;fill:#353232;stroke:#353232;stroke-width:0.32">immunometabolic effects</text>
<text x="391.7" text-anchor="middle" y="370.6" textLength="76.3" lengthAdjust="spacingAndGlyphs" style="font-size:9.1px;font-weight:400;fill:#353232;stroke:#353232;stroke-width:0.32">Polyunsaturated fats</text>
<text x="391.4" text-anchor="middle" y="381.0" textLength="39.3" lengthAdjust="spacingAndGlyphs" style="font-size:8.6px;font-weight:400;fill:#474444;stroke:#474444;stroke-width:0.12">(EPA, DHA)</text>
<text x="483.1" text-anchor="middle" y="370.6" textLength="47.0" lengthAdjust="spacingAndGlyphs" style="font-size:9.1px;font-weight:400;fill:#353232;stroke:#353232;stroke-width:0.32">Live bacteria</text>
<text x="482.8" text-anchor="middle" y="485.9" textLength="43.7" lengthAdjust="spacingAndGlyphs" style="font-size:9.1px;font-weight:400;fill:#353232;stroke:#353232;stroke-width:0.32">Exposure to</text>
<text x="482.9" text-anchor="middle" y="494.6" textLength="67.9" lengthAdjust="spacingAndGlyphs" style="font-size:9.1px;font-weight:400;fill:#353232;stroke:#353232;stroke-width:0.32">microbial diversity</text>
<text x="597.9" text-anchor="middle" y="373.4" textLength="26.9" lengthAdjust="spacingAndGlyphs" style="font-size:9.1px;font-weight:400;fill:#353232;stroke:#353232;stroke-width:0.32">Protein</text>
<text x="601.8" text-anchor="middle" y="408.5" textLength="84.6" lengthAdjust="spacingAndGlyphs" style="font-size:9.1px;font-weight:400;fill:#353232;stroke:#353232;stroke-width:0.32">Microbial fermentation</text>
<text x="602.0" text-anchor="middle" y="418.5" textLength="80.2" lengthAdjust="spacingAndGlyphs" style="font-size:9.1px;font-weight:400;fill:#353232;stroke:#353232;stroke-width:0.32">of undigested protein</text>
<text x="576.5" text-anchor="middle" y="459.0" textLength="34.5" lengthAdjust="spacingAndGlyphs" style="font-size:8.6px;font-weight:400;fill:#474444;stroke:#474444;stroke-width:0.12">Ammonia,</text>
<text x="575.8" y="468.6" text-anchor="middle" textLength="28.2" lengthAdjust="spacingAndGlyphs" style="font-size:8.6px;fill:#474444"><tspan style="font-style:italic">p</tspan> -cresol</text>
<text x="620.4" text-anchor="middle" y="459.0" textLength="32.4" lengthAdjust="spacingAndGlyphs" style="font-size:8.6px;font-weight:400;fill:#474444;stroke:#474444;stroke-width:0.12">Hydrogen</text>
<text x="620.6" text-anchor="middle" y="468.6" textLength="28.2" lengthAdjust="spacingAndGlyphs" style="font-size:8.6px;font-weight:400;fill:#474444;stroke:#474444;stroke-width:0.12">sulphide</text>
<text x="625.1" text-anchor="middle" y="506.8" textLength="41.8" lengthAdjust="spacingAndGlyphs" style="font-size:9.1px;font-weight:400;fill:#353232;stroke:#353232;stroke-width:0.32">Breakdown</text>
<text x="625.0" text-anchor="middle" y="517.2" textLength="54.4" lengthAdjust="spacingAndGlyphs" style="font-size:9.1px;font-weight:400;fill:#353232;stroke:#353232;stroke-width:0.32">of mucus layer</text>
<text x="597.1" text-anchor="start" y="536.5" textLength="19.7" lengthAdjust="spacingAndGlyphs" style="font-size:8.6px;font-weight:400;fill:#474444;stroke:#474444;stroke-width:0.12">Heme</text>
<text x="625.1" text-anchor="middle" y="562.3" textLength="44.3" lengthAdjust="spacingAndGlyphs" style="font-size:9.1px;font-weight:400;fill:#353232;stroke:#353232;stroke-width:0.32">Hyperplasia</text>
<text x="624.9" text-anchor="middle" y="572.2" textLength="35.8" lengthAdjust="spacingAndGlyphs" style="font-size:9.1px;font-weight:400;fill:#353232;stroke:#353232;stroke-width:0.32">in the gut</text>
<text x="602.0" text-anchor="middle" y="619.5" textLength="85.1" lengthAdjust="spacingAndGlyphs" style="font-size:9.1px;font-weight:400;fill:#353232;stroke:#353232;stroke-width:0.32">Potential inflammatory</text>
<text x="602.1" text-anchor="middle" y="629.7" textLength="49.2" lengthAdjust="spacingAndGlyphs" style="font-size:9.1px;font-weight:400;fill:#353232;stroke:#353232;stroke-width:0.32">response and</text>
<text x="602.1" text-anchor="middle" y="640.0" textLength="81.5" lengthAdjust="spacingAndGlyphs" style="font-size:9.1px;font-weight:400;fill:#353232;stroke:#353232;stroke-width:0.32">carcinogenic potential</text>
<text x="709.5" text-anchor="middle" y="373.9" textLength="36.6" lengthAdjust="spacingAndGlyphs" style="font-size:9.2px;font-weight:400;fill:#353232;stroke:#353232;stroke-width:0.32">Saturated</text>
<text x="710.1" text-anchor="middle" y="383.6" textLength="14.3" lengthAdjust="spacingAndGlyphs" style="font-size:9.2px;font-weight:400;fill:#353232;stroke:#353232;stroke-width:0.32">fats</text>
<text x="773.4" text-anchor="middle" y="373.9" textLength="35.8" lengthAdjust="spacingAndGlyphs" style="font-size:9.2px;font-weight:400;fill:#353232;stroke:#353232;stroke-width:0.32">Saturated</text>
<text x="774.0" text-anchor="middle" y="383.6" textLength="14.4" lengthAdjust="spacingAndGlyphs" style="font-size:9.2px;font-weight:400;fill:#353232;stroke:#353232;stroke-width:0.32">fats</text>
<text x="819.6" text-anchor="middle" y="373.9" textLength="27.5" lengthAdjust="spacingAndGlyphs" style="font-size:9.2px;font-weight:400;fill:#353232;stroke:#353232;stroke-width:0.32">Protein</text>
<text x="870.5" text-anchor="middle" y="373.9" textLength="29.4" lengthAdjust="spacingAndGlyphs" style="font-size:9.2px;font-weight:400;fill:#353232;stroke:#353232;stroke-width:0.32">Nitrites,</text>
<text x="870.6" text-anchor="middle" y="383.6" textLength="28.5" lengthAdjust="spacingAndGlyphs" style="font-size:9.2px;font-weight:400;fill:#353232;stroke:#353232;stroke-width:0.32">nitrates</text>
<text x="726.0" text-anchor="middle" y="432.6" textLength="30.9" lengthAdjust="spacingAndGlyphs" style="font-size:9.2px;font-weight:400;fill:#353232;stroke:#353232;stroke-width:0.32">Bile acid</text>
<text x="725.9" text-anchor="middle" y="443.1" textLength="25.3" lengthAdjust="spacingAndGlyphs" style="font-size:9.2px;font-weight:400;fill:#353232;stroke:#353232;stroke-width:0.32">output</text>
<text x="814.4" text-anchor="middle" y="413.8" textLength="34.7" lengthAdjust="spacingAndGlyphs" style="font-size:9.2px;font-weight:400;fill:#353232;stroke:#353232;stroke-width:0.32">Microbial</text>
<text x="814.2" text-anchor="middle" y="423.9" textLength="48.6" lengthAdjust="spacingAndGlyphs" style="font-size:9.2px;font-weight:400;fill:#353232;stroke:#353232;stroke-width:0.32">fermentation</text>
<text x="814.4" text-anchor="middle" y="434.0" textLength="50.7" lengthAdjust="spacingAndGlyphs" style="font-size:9.2px;font-weight:400;fill:#353232;stroke:#353232;stroke-width:0.32">of undigested</text>
<text x="814.3" text-anchor="middle" y="444.0" textLength="27.5" lengthAdjust="spacingAndGlyphs" style="font-size:9.2px;font-weight:400;fill:#353232;stroke:#353232;stroke-width:0.32">protein</text>
<text x="866.5" text-anchor="middle" y="413.8" textLength="34.1" lengthAdjust="spacingAndGlyphs" style="font-size:9.2px;font-weight:400;fill:#353232;stroke:#353232;stroke-width:0.32">Microbial</text>
<text x="866.7" text-anchor="middle" y="423.9" textLength="49.8" lengthAdjust="spacingAndGlyphs" style="font-size:9.2px;font-weight:400;fill:#353232;stroke:#353232;stroke-width:0.32">production of</text>
<text x="866.5" y="434.0" text-anchor="middle" textLength="32.9" lengthAdjust="spacingAndGlyphs" style="font-size:9.2px;fill:#353232;stroke:#353232;stroke-width:0.32"><tspan style="font-style:italic">N</tspan>-nitroso</text>
<text x="866.7" text-anchor="middle" y="444.0" textLength="42.6" lengthAdjust="spacingAndGlyphs" style="font-size:9.2px;font-weight:400;fill:#353232;stroke:#353232;stroke-width:0.32">compounds</text>
<text x="781.6" text-anchor="middle" y="469.8" textLength="34.4" lengthAdjust="spacingAndGlyphs" style="font-size:8.6px;font-weight:400;fill:#474444;stroke:#474444;stroke-width:0.12">Ammonia,</text>
<text x="781.6" y="479.4" text-anchor="middle" textLength="27.5" lengthAdjust="spacingAndGlyphs" style="font-size:8.6px;fill:#474444"><tspan style="font-style:italic">p</tspan> -cresol</text>
<text x="741.5" text-anchor="middle" y="488.3" textLength="28.2" lengthAdjust="spacingAndGlyphs" style="font-size:8.6px;font-weight:400;fill:#474444;stroke:#474444;stroke-width:0.12;font-style:italic">Bilophila</text>
<text x="741.4" text-anchor="middle" y="498.7" textLength="40.3" lengthAdjust="spacingAndGlyphs" style="font-size:8.6px;font-weight:400;fill:#474444;stroke:#474444;stroke-width:0.12;font-style:italic">wadsworthia</text>
<text x="828.3" text-anchor="middle" y="488.3" textLength="32.6" lengthAdjust="spacingAndGlyphs" style="font-size:8.6px;font-weight:400;fill:#474444;stroke:#474444;stroke-width:0.12">Hydrogen</text>
<text x="828.4" text-anchor="middle" y="498.7" textLength="28.6" lengthAdjust="spacingAndGlyphs" style="font-size:8.6px;font-weight:400;fill:#474444;stroke:#474444;stroke-width:0.12">sulphide</text>
<text x="715.7" text-anchor="middle" y="529.4" textLength="50.7" lengthAdjust="spacingAndGlyphs" style="font-size:9.2px;font-weight:400;fill:#353232;stroke:#353232;stroke-width:0.32">Production of</text>
<text x="715.9" text-anchor="middle" y="539.8" textLength="53.7" lengthAdjust="spacingAndGlyphs" style="font-size:9.2px;font-weight:400;fill:#353232;stroke:#353232;stroke-width:0.32">secondary bile</text>
<text x="715.9" y="550.2" text-anchor="middle" textLength="66.6" lengthAdjust="spacingAndGlyphs" style="font-size:9.2px;fill:#353232;stroke:#353232;stroke-width:0.32">acids <tspan style="font-style:italic">via</tspan> microbial</text>
<text x="715.8" text-anchor="middle" y="560.5" textLength="67.6" lengthAdjust="spacingAndGlyphs" style="font-size:9.2px;font-weight:400;fill:#353232;stroke:#353232;stroke-width:0.32">biotransformation</text>
<text x="826.8" text-anchor="middle" y="536.2" textLength="41.4" lengthAdjust="spacingAndGlyphs" style="font-size:9.2px;font-weight:400;fill:#353232;stroke:#353232;stroke-width:0.32">Breakdown</text>
<text x="827.0" text-anchor="middle" y="545.5" textLength="54.8" lengthAdjust="spacingAndGlyphs" style="font-size:9.2px;font-weight:400;fill:#353232;stroke:#353232;stroke-width:0.32">of mucus layer</text>
<text x="803.8" text-anchor="start" y="563.8" textLength="20.5" lengthAdjust="spacingAndGlyphs" style="font-size:8.6px;font-weight:400;fill:#474444;stroke:#474444;stroke-width:0.12">Heme</text>
<text x="826.7" text-anchor="middle" y="585.4" textLength="43.8" lengthAdjust="spacingAndGlyphs" style="font-size:9.2px;font-weight:400;fill:#353232;stroke:#353232;stroke-width:0.32">Hyperplasia</text>
<text x="827.0" text-anchor="middle" y="595.3" textLength="35.3" lengthAdjust="spacingAndGlyphs" style="font-size:9.2px;font-weight:400;fill:#353232;stroke:#353232;stroke-width:0.32">in the gut</text>
<text x="777.4" text-anchor="middle" y="635.0" textLength="85.8" lengthAdjust="spacingAndGlyphs" style="font-size:9.2px;font-weight:400;fill:#353232;stroke:#353232;stroke-width:0.32">Inflammatory response</text>
<text x="777.5" text-anchor="middle" y="644.2" textLength="97.3" lengthAdjust="spacingAndGlyphs" style="font-size:9.2px;font-weight:400;fill:#353232;stroke:#353232;stroke-width:0.32">and carcinogenic potential</text>
<text x="272.3" y="717.6" text-anchor="middle" textLength="313.2" lengthAdjust="spacingAndGlyphs" style="font-size:12.0px;fill:#2c2a2b;stroke:#2c2a2b;stroke-width:0.22">Microbiome considerations support dietary recommendations</text>
<text x="271.7" text-anchor="middle" y="731.8" textLength="368.9" lengthAdjust="spacingAndGlyphs" style="font-size:12.0px;font-weight:700;fill:#2c2a2b">to consume vegetables, fruits, whole grains, plant-based protein foods,</text>
<text x="271.7" text-anchor="middle" y="745.9" textLength="325.4" lengthAdjust="spacingAndGlyphs" style="font-size:12.0px;font-weight:700;fill:#2c2a2b">fatty fish, and low-fat and fermented dairy products regularly.</text>
<text x="595.8" y="698.8" text-anchor="middle" textLength="60.5" lengthAdjust="spacingAndGlyphs" style="font-size:12.0px;fill:#2c2a2b;stroke:#2c2a2b;stroke-width:0.22">Microbiome</text>
<text x="595.8" y="712.6" text-anchor="middle" textLength="74.8" lengthAdjust="spacingAndGlyphs" style="font-size:12.0px;fill:#2c2a2b;stroke:#2c2a2b;stroke-width:0.22">considerations</text>
<text x="595.8" y="726.4" text-anchor="middle" textLength="78.5" lengthAdjust="spacingAndGlyphs" style="font-size:12.0px;fill:#2c2a2b;stroke:#2c2a2b;stroke-width:0.22">support dietary</text>
<text x="595.8" y="740.2" text-anchor="middle" textLength="92.8" lengthAdjust="spacingAndGlyphs" style="font-size:12.0px;fill:#2c2a2b;stroke:#2c2a2b;stroke-width:0.22">recommendations</text>
<text x="595.8" text-anchor="middle" y="754.0" textLength="62.0" lengthAdjust="spacingAndGlyphs" style="font-size:12.0px;font-weight:700;fill:#2c2a2b">to consume</text>
<text x="595.8" text-anchor="middle" y="767.8" textLength="73.3" lengthAdjust="spacingAndGlyphs" style="font-size:12.0px;font-weight:700;fill:#2c2a2b">lean red meat</text>
<text x="595.8" text-anchor="middle" y="781.6" textLength="77.0" lengthAdjust="spacingAndGlyphs" style="font-size:12.0px;font-weight:700;fill:#2c2a2b">in moderation.</text>
<text x="774.2" y="712.9" text-anchor="middle" textLength="137.8" lengthAdjust="spacingAndGlyphs" style="font-size:12.0px;fill:#2c2a2b;stroke:#2c2a2b;stroke-width:0.22">Microbiome considerations</text>
<text x="774.2" y="726.6" text-anchor="middle" textLength="173.6" lengthAdjust="spacingAndGlyphs" style="font-size:12.0px;fill:#2c2a2b;stroke:#2c2a2b;stroke-width:0.22">support dietary recommendations</text>
<text x="774.2" text-anchor="middle" y="740.3" textLength="161.3" lengthAdjust="spacingAndGlyphs" style="font-size:12.0px;font-weight:700;fill:#2c2a2b">to limit high-fat dairy products</text>
<text x="774.2" text-anchor="middle" y="754.0" textLength="111.1" lengthAdjust="spacingAndGlyphs" style="font-size:12.0px;font-weight:700;fill:#2c2a2b">and avoid consuming</text>
<text x="774.2" text-anchor="middle" y="767.7" textLength="89.9" lengthAdjust="spacingAndGlyphs" style="font-size:12.0px;font-weight:700;fill:#2c2a2b">processed meats.</text>
<path d="M65.0,338.2 L61.4,342.5 L61.4,359.6" class="sa"/>
<path d="M58.0,355.4 L61.4,359.6 L64.8,355.4" class="sa"/>
<path d="M101.9,335.9 L106.1,342.5 L106.1,425.8" class="sa"/>
<path d="M102.7,421.6 L106.1,425.8 L109.5,421.6" class="sa"/>
<path d="M163.7,338.9 L160.0,341.8 L160.0,358.7" class="sa"/>
<path d="M156.6,354.5 L160.0,358.7 L163.4,354.5" class="sa"/>
<path d="M192.9,338.5 L194.6,341.2 L194.6,425.8" class="sa"/>
<path d="M191.2,421.6 L194.6,425.8 L198.0,421.6" class="sa"/>
<path d="M258.7,335.3 L252.8,341.8 L252.8,358.7" class="sa"/>
<path d="M249.4,354.5 L252.8,358.7 L256.2,354.5" class="sa"/>
<path d="M285.5,340.5 L285.5,425.8" class="sa"/>
<path d="M282.1,421.6 L285.5,425.8 L288.9,421.6" class="sa"/>
<path d="M309.3,335.3 L314.6,341.2 L314.6,390.6" class="sa"/>
<path d="M311.2,386.4 L314.6,390.6 L318.0,386.4" class="sa"/>
<path d="M391.7,341.5 L391.7,360.2" class="sa"/>
<path d="M388.3,356.0 L391.7,360.2 L395.1,356.0" class="sa"/>
<path d="M484.4,341.5 L484.4,360.2" class="sa"/>
<path d="M481.0,356.0 L484.4,360.2 L487.8,356.0" class="sa"/>
<path d="M597.9,341.3 L597.9,362.2" class="sa"/>
<path d="M594.5,358.0 L597.9,362.2 L601.3,358.0" class="sa"/>
<path d="M713.8,335.3 L710.3,340.1 L710.3,361.5" class="sa"/>
<path d="M706.9,357.3 L710.3,361.5 L713.7,357.3" class="sa"/>
<path d="M810.7,326.4 L776.5,341.5 L776.5,362.0" class="sa"/>
<path d="M773.1,357.8 L776.5,362.0 L779.9,357.8" class="sa"/>
<path d="M823.5,334.3 L819.5,339.9 L819.5,361.2" class="sa"/>
<path d="M816.1,357.0 L819.5,361.2 L822.9,357.0" class="sa"/>
<path d="M862.8,334.8 L869.3,342.5 L869.3,362.1" class="sa"/>
<path d="M865.9,357.9 L869.3,362.1 L872.7,357.9" class="sa"/>
<path d="M59.4,393.5 L59.4,476.4" class="da"/>
<path d="M56.1,472.7 L59.4,476.4 L62.7,472.7" class="dh"/>
<path d="M160.0,394.5 L160.0,408.7" class="da"/>
<path d="M257.1,394.7 L257.1,408.7" class="da"/>
<path d="M59.4,408.7 L257.1,408.7" class="da"/>
<path d="M59.1,513.5 L59.1,549.4" class="da"/>
<path d="M55.8,545.7 L59.1,549.4 L62.4,545.7" class="dh"/>
<path d="M61.3,575.7 L61.3,635.0 L188.4,635.0" class="da"/>
<path d="M184.7,638.3 L188.4,635.0 L184.7,631.7" class="dh"/>
<path d="M107.1,462.6 L107.1,532.0 L180.3,532.0" class="da"/>
<path d="M176.6,535.3 L180.3,532.0 L176.6,528.7" class="dh"/>
<path d="M194.8,461.8 L194.8,482.8" class="da"/>
<path d="M191.5,479.1 L194.8,482.8 L198.1,479.1" class="dh"/>
<path d="M220.7,492.5 L251.5,492.5 L251.5,519.0" class="da"/>
<path d="M248.2,515.3 L251.5,519.0 L254.8,515.3" class="dh"/>
<path d="M318.8,416.6 L318.8,423.7 L332.6,423.7 L332.6,481.0" class="da"/>
<path d="M283.6,463.0 L283.6,472.8 L332.0,472.8" class="da"/>
<path d="M332.7,512.7 L332.7,532.0 L292.5,532.0" class="da"/>
<path d="M296.2,528.7 L292.5,532.0 L296.2,535.3" class="dh"/>
<path d="M251.5,551.3 L251.5,575.0" class="da"/>
<path d="M248.2,571.3 L251.5,575.0 L254.8,571.3" class="dh"/>
<path d="M251.6,595.5 L251.6,620.0" class="da"/>
<path d="M248.3,616.3 L251.6,620.0 L254.9,616.3" class="dh"/>
<path d="M393.0,388.8 L393.0,631.5" class="da"/>
<path d="M484.5,380.4 L484.5,472.1" class="da"/>
<path d="M481.2,468.4 L484.5,472.1 L487.8,468.4" class="dh"/>
<path d="M483.8,500.0 L483.8,631.5 L302.9,631.5" class="da"/>
<path d="M306.6,628.2 L302.9,631.5 L306.6,634.8" class="dh"/>
<path d="M598.4,377.5 L598.4,396.8" class="da"/>
<path d="M595.1,393.1 L598.4,396.8 L601.7,393.1" class="dh"/>
<path d="M576.7,425.7 L576.7,448.2" class="da"/>
<path d="M573.4,444.5 L576.7,448.2 L580.0,444.5" class="dh"/>
<path d="M621.3,425.7 L621.3,448.2" class="da"/>
<path d="M618.0,444.5 L621.3,448.2 L624.6,444.5" class="dh"/>
<path d="M569.8,476.2 L569.8,606.3" class="da"/>
<path d="M566.5,602.6 L569.8,606.3 L573.1,602.6" class="dh"/>
<path d="M621.3,474.6 L621.3,494.7" class="da"/>
<path d="M618.0,491.0 L621.3,494.7 L624.6,491.0" class="dh"/>
<path d="M621.3,524.4 L621.3,551.8" class="da"/>
<path d="M618.0,548.1 L621.3,551.8 L624.6,548.1" class="dh"/>
<path d="M621.3,576.5 L621.3,606.3" class="da"/>
<path d="M618.0,602.6 L621.3,606.3 L624.6,602.6" class="dh"/>
<path d="M708.2,388.9 L708.2,399.2 L775.1,399.2 L775.1,388.9" class="da"/>
<path d="M729.6,399.2 L729.6,418.1" class="da"/>
<path d="M726.3,414.4 L729.6,418.1 L732.9,414.4" class="dh"/>
<path d="M819.9,378.7 L819.9,402.0" class="da"/>
<path d="M816.6,398.3 L819.9,402.0 L823.2,398.3" class="dh"/>
<path d="M869.8,388.4 L869.8,403.6" class="da"/>
<path d="M866.5,399.9 L869.8,403.6 L873.1,399.9" class="dh"/>
<path d="M729.3,450.5 L729.3,463.8" class="da"/>
<path d="M710.3,463.8 L742.1,463.8" class="da"/>
<path d="M710.3,463.8 L710.3,517.6" class="da"/>
<path d="M707.0,513.9 L710.3,517.6 L713.6,513.9" class="dh"/>
<path d="M742.1,463.8 L742.1,477.3" class="da"/>
<path d="M738.8,473.6 L742.1,477.3 L745.4,473.6" class="dh"/>
<path d="M795.7,441.3 L782.1,441.3 L782.1,457.7" class="da"/>
<path d="M778.8,454.0 L782.1,457.7 L785.4,454.0" class="dh"/>
<path d="M826.0,452.1 L826.0,477.0" class="da"/>
<path d="M822.7,473.3 L826.0,477.0 L829.3,473.3" class="dh"/>
<path d="M782.4,485.0 L782.4,618.4" class="da"/>
<path d="M779.1,614.7 L782.4,618.4 L785.7,614.7" class="dh"/>
<path d="M766.3,491.8 L807.0,491.8" class="da"/>
<path d="M803.3,495.1 L807.0,491.8 L803.3,488.5" class="dh"/>
<path d="M740.8,506.0 L740.8,515.3 L767.4,515.3 L767.4,618.4" class="da"/>
<path d="M764.1,614.7 L767.4,618.4 L770.7,614.7" class="dh"/>
<path d="M826.0,505.2 L826.0,525.3" class="da"/>
<path d="M822.7,521.6 L826.0,525.3 L829.3,521.6" class="dh"/>
<path d="M826.6,551.0 L826.6,574.9" class="da"/>
<path d="M823.3,571.2 L826.6,574.9 L829.9,571.2" class="dh"/>
<path d="M826.6,599.1 L826.6,619.2" class="da"/>
<path d="M823.3,615.5 L826.6,619.2 L829.9,615.5" class="dh"/>
<path d="M711.1,566.1 L711.1,574.9 L739.2,574.9 L739.2,618.4" class="da"/>
<path d="M735.9,614.7 L739.2,618.4 L742.5,614.7" class="dh"/>
<path d="M872.2,452.0 L872.2,635.3 L838.4,635.3" class="da"/>
<path d="M842.1,632.0 L838.4,635.3 L842.1,638.6" class="dh"/>
<path d="M21.5,508.8 L21.5,483.2" stroke="#b9d535" stroke-width="2.6" fill="none"/>
<path d="M17.0,488.7 L21.5,482.7 L26.0,488.7" stroke="#b9d535" stroke-width="2.5" fill="none" stroke-linejoin="miter"/>
<path d="M21.5,574.0 L21.5,549.3" stroke="#b9d535" stroke-width="2.6" fill="none"/>
<path d="M17.0,554.8 L21.5,548.8 L26.0,554.8" stroke="#b9d535" stroke-width="2.5" fill="none" stroke-linejoin="miter"/>
<path d="M194.7,543.4 L194.7,517.8" stroke="#b9d535" stroke-width="2.6" fill="none"/>
<path d="M190.2,523.3 L194.7,517.3 L199.2,523.3" stroke="#b9d535" stroke-width="2.5" fill="none" stroke-linejoin="miter"/>
<path d="M180.4,596.3 L180.4,570.1" stroke="#b9d535" stroke-width="2.6" fill="none"/>
<path d="M175.9,575.6 L180.4,569.6 L184.9,575.6" stroke="#b9d535" stroke-width="2.5" fill="none" stroke-linejoin="miter"/>
<path d="M201.6,648.2 L201.6,622.5" stroke="#b9d535" stroke-width="2.6" fill="none"/>
<path d="M197.1,628.0 L201.6,622.0 L206.1,628.0" stroke="#b9d535" stroke-width="2.5" fill="none" stroke-linejoin="miter"/>
<path d="M441.3,498.7 L441.3,473.6" stroke="#b9d535" stroke-width="2.6" fill="none"/>
<path d="M436.8,479.1 L441.3,473.1 L445.8,479.1" stroke="#b9d535" stroke-width="2.5" fill="none" stroke-linejoin="miter"/>
<path d="M550.5,424.1 L550.5,399.1" stroke="#e77470" stroke-width="2.6" fill="none"/>
<path d="M546.0,404.6 L550.5,398.6 L555.0,404.6" stroke="#e77470" stroke-width="2.5" fill="none" stroke-linejoin="miter"/>
<path d="M589.4,518.8 L589.4,493.8" stroke="#e77470" stroke-width="2.6" fill="none"/>
<path d="M584.9,499.3 L589.4,493.3 L593.9,499.3" stroke="#e77470" stroke-width="2.5" fill="none" stroke-linejoin="miter"/>
<path d="M589.4,578.1 L589.4,552.5" stroke="#e77470" stroke-width="2.6" fill="none"/>
<path d="M584.9,558.0 L589.4,552.0 L593.9,558.0" stroke="#e77470" stroke-width="2.5" fill="none" stroke-linejoin="miter"/>
<path d="M550.5,640.1 L550.5,614.6" stroke="#e77470" stroke-width="2.6" fill="none"/>
<path d="M546.0,620.1 L550.5,614.1 L555.0,620.1" stroke="#e77470" stroke-width="2.5" fill="none" stroke-linejoin="miter"/>
<path d="M701.9,444.7 L701.9,420.0" stroke="#e77470" stroke-width="2.6" fill="none"/>
<path d="M697.4,425.5 L701.9,419.5 L706.4,425.5" stroke="#e77470" stroke-width="2.5" fill="none" stroke-linejoin="miter"/>
<path d="M782.4,431.8 L782.4,406.8" stroke="#e77470" stroke-width="2.6" fill="none"/>
<path d="M777.9,412.3 L782.4,406.3 L786.9,412.3" stroke="#e77470" stroke-width="2.5" fill="none" stroke-linejoin="miter"/>
<path d="M673.6,556.2 L673.6,530.8" stroke="#e77470" stroke-width="2.6" fill="none"/>
<path d="M669.1,536.3 L673.6,530.3 L678.1,536.3" stroke="#e77470" stroke-width="2.5" fill="none" stroke-linejoin="miter"/>
<path d="M795.4,549.4 L795.4,523.6" stroke="#e77470" stroke-width="2.6" fill="none"/>
<path d="M790.9,529.1 L795.4,523.1 L799.9,529.1" stroke="#e77470" stroke-width="2.5" fill="none" stroke-linejoin="miter"/>
<path d="M796.1,599.1 L796.1,574.0" stroke="#e77470" stroke-width="2.6" fill="none"/>
<path d="M791.6,579.5 L796.1,573.5 L800.6,579.5" stroke="#e77470" stroke-width="2.5" fill="none" stroke-linejoin="miter"/>
<path d="M721.2,645.7 L721.2,619.9" stroke="#e77470" stroke-width="2.6" fill="none"/>
<path d="M716.7,625.4 L721.2,619.4 L725.7,625.4" stroke="#e77470" stroke-width="2.5" fill="none" stroke-linejoin="miter"/>
</svg>
</div></body></html>
